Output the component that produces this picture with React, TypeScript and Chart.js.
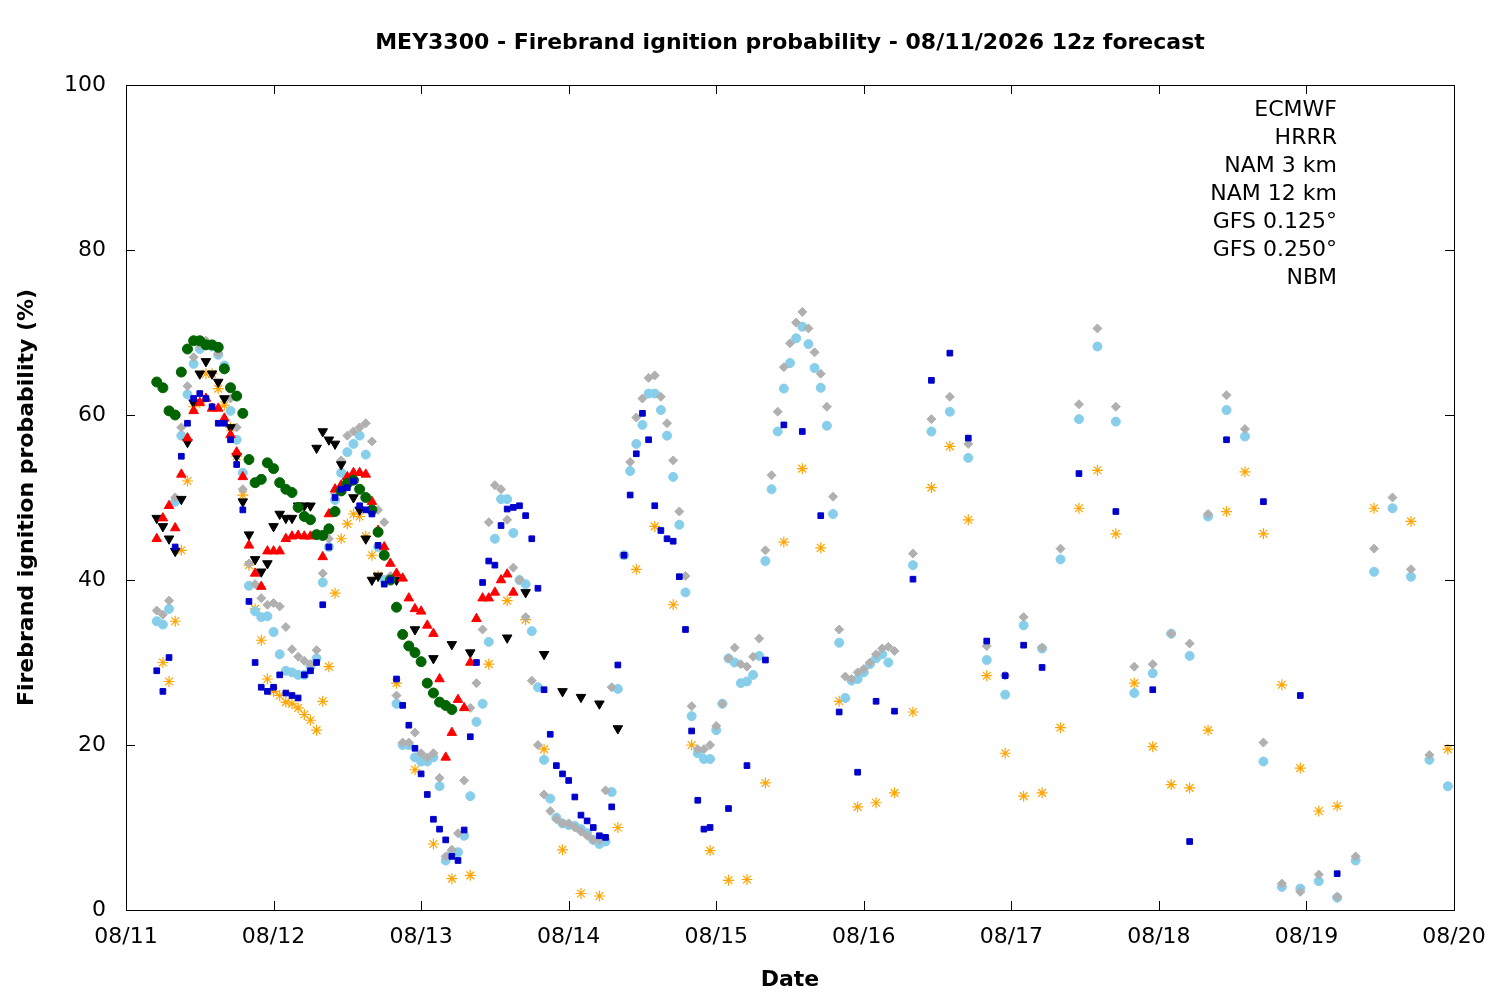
import React, { useEffect, useRef } from "react";
import { Chart, registerables } from "chart.js";
Chart.register(...registerables);

const dateLabels = ["08/11", "08/12", "08/13", "08/14", "08/15", "08/16", "08/17", "08/18", "08/19", "08/20"];
const yTicks = [0, 20, 40, 60, 80, 100];

// [forecast hour since 08/11 00z, probability %]
const ecmwf: [number, number][] = [
  [5,29],[6,26.5],[7,30.6],[8,44],[9,55],[10,59],[11,62],[12,62.6],[13,62],[14,61],[15,59],[16,59],[17,57],[18,54],[19,48.5],[20,37.4],[21,30],[22,27],[23,26.5],[24,27],[25,28.5],[26,26.3],[27,26],[28,25.7],[29,28.5],[30,29],[31,30],[32,37],[33,44],[34,50],[35,51],[36,51.2],[37,52],[38,49],[39,48.5],[40,48],[41,44.2],[42,39.5],[43,40],
  [44,28],[45,24.8],[46,22.4],[47,19.6],[48,16.5],[49,14],[50,11],[51,9.8],[52,8.5],[53,6.5],[54,6],[55,9.7],[56,21],[57,30],[58,39.7],[59,42.3],[60,41.8],[61,46.6],[62,48.6],[63,48.8],[64,49],[65,47.8],[66,45],[67,39],[68,26.7],[69,21.3],[70,17.5],[71,16.5],[72,15.7],[73,13.7],[74,11.5],[75,10.8],[76,10],[77,9],[78,8.8],[79,12.5],[80,29.7],
  [81,43],[82,50.3],[83,55.3],[84,60.2],[85,57],[86,49],[87,46],[88,45],[89,44.7],[90,40.4],[91,34],[92,21.7],[93,13.3],[94,9.8],[95,10],
  [98,12.3],[101,17.5],[104,30.3],[107,58.8],[110,58],[113,47.8],[116,24],[119,16.7],[122,25.3],[125,24.1],[128,40.1],[131,64.2],[134,67.5],[137,57.2],[140,32.6],[143,28.4],[146,32.1],[149,29.4],[155,52.9],[161,48.3],[167,26.7],[173,8.3],[179,57],[185,49.5],[191,26],[197,4.4],
];
const hrrr: [number, number][] = [
  [5,64],[6,63.3],[7,60.5],[8,60],[9,65.2],[10,68],[11,69],[12,69],[13,68.5],[14,68.5],[15,68.2],[16,65.6],[17,63.3],[18,62.3],[19,60.2],[20,54.6],[21,51.8],[22,52.2],[23,54.2],[24,53.5],[25,51.8],[26,51],[27,50.6],[28,48.8],[29,47.7],[30,47.3],[31,45.5],[32,45.4],[33,46.2],[34,48.3],[35,50.8],[36,51.7],[37,52.1],[38,51],[39,50],[40,48.5],[41,45.8],[42,43],[43,40],[44,36.7],[45,33.4],[46,32],[47,31.2],[48,30.1],[49,27.5],[50,26.3],[51,25.2],[52,24.8],[53,24.3],
];
const nam3: [number, number][] = [
  [5,45],[6,47.5],[7,49],[8,46.3],[9,52.8],[10,57.2],[11,60.5],[12,61.5],[13,62],[14,60.8],[15,60.8],[16,59.6],[17,57.6],[18,55.5],[19,52.5],[20,44.2],[21,40.8],[22,39.2],[23,43.5],[24,43.5],[25,43.5],[26,45],[27,45.3],[28,45.4],[29,45.3],[30,45.3],[31,45.4],[32,42.8],[33,48],[34,51],[35,51.5],[36,52.5],[37,53],[38,53],[39,52.8],[40,49.5],[41,46],[42,44],[43,42],[44,40.8],[45,40.2],[46,37.8],[47,36.5],[48,36.2],[49,34.5],[50,33.5],[51,28],[52,18.5],[53,21.5],[54,25.5],[55,24.5],[56,30],[57,35.3],[58,37.8],[59,37.8],[60,38.5],[61,40],[62,40.7],[63,38.5],
];
const nam12: [number, number][] = [
  [5,47.5],[6,46.5],[7,45],[8,43.5],[9,49.8],[10,56.7],[11,61.5],[12,65],[13,66.5],[14,65],[15,64],[16,62],[17,58.5],[18,55],[19,49.5],[20,45.5],[21,42.5],[22,41],[23,42],[24,46.5],[25,48],[26,47.5],[27,47.5],[28,49],[29,49],[30,49],[31,56],[32,58],[33,57],[34,56.5],[35,54],[36,52],[37,50],[38,48.5],[39,45],[40,40],[41,40.5],
  [44,40],[47,34],[50,30.5],[53,32.2],[56,31.2],[62,33],[65,38.5],[68,31],[71,26.5],[74,25.8],[77,25],[80,22],
];
const gfs0125: [number, number][] = [
  [5,36.3],[6,35.8],[7,37.5],[8,50],[9,58.5],[10,63.5],[11,67],[12,68.5],[13,69],[14,68.5],[15,67.5],[16,65.5],[17,62],[18,58.5],[19,51],[20,42],[21,39.5],[22,37.8],[23,37],[24,37.2],[25,36.8],[26,34.3],[27,31.6],[28,30.7],[29,30.2],[30,29.8],[31,31.5],[32,40.8],[33,45],[34,50.5],[35,54.5],[36,57.5],[37,58],[38,58.5],[39,59],[40,56.8],[41,48.5],[42,47],[43,40.5],
  [44,26],[45,20.3],[46,20.3],[47,21.5],[48,19],[49,18.5],[50,19],[51,16],[52,6.5],[53,7.3],[54,9.3],[55,15.7],[56,24.5],[57,27.5],[58,34],[59,47],[60,51.5],[61,51],[62,47.3],[63,41.5],[64,40],[65,35.5],[66,27.8],[67,20],[68,14],[69,12],[70,11],[71,10.5],[72,10.5],[73,10],[74,9.5],[75,9],[76,8.5],[77,8.5],[78,14.5],[79,27],
  [81,43],[82,54.3],[83,59.7],[84,62],[85,64.5],[86,64.8],[87,62.2],[88,59],[89,54.5],[90,48.3],[91,40.5],[92,24.7],[93,19.5],[94,19.5],[95,20],[96,22.3],[97,25],[98,30.5],[99,31.8],[100,29.8],[101,29.5],[102,30.7],[103,32.9],[104,43.6],[105,52.7],[106,60.4],[107,65.8],[108,68.7],[109,71.2],[110,72.5],[111,70.5],[112,67.6],[113,65],[114,61],[115,50.1],[116,34],[117,28.3],[118,28],[119,28.8],[120,29.2],[121,30],[122,31],[123,31.7],[124,31.9],[125,31.4],
  [128,43.2],[131,59.5],[134,62.2],[137,56.5],[140,32],[143,28.4],[146,35.5],[149,31.8],[152,43.8],[155,61.3],[158,70.5],[161,61],[164,29.5],[167,29.8],[170,33.5],[173,32.3],[176,48],[179,62.4],[182,58.3],[185,20.3],[188,3.2],[191,2.2],[194,4.3],[197,1.6],[200,6.5],[203,43.8],[206,50],[209,41.3],[212,18.8],
];
const gfs0250: [number, number][] = [
  [5,35],[6,34.6],[7,36.5],[8,49.5],[9,57.5],[10,62.5],[11,66.2],[12,68],[13,68.5],[14,68.3],[15,67.3],[16,66],[17,60.5],[18,57],[19,53],[20,39.3],[21,36.2],[22,35.5],[23,35.6],[24,33.7],[25,31],[26,29],[27,28.8],[28,28.5],[29,28.5],[30,29.5],[31,30.5],[32,39.7],[33,44],[34,49.7],[35,53],[36,55.5],[37,56.5],[38,57.5],[39,55.2],[40,48.3],[41,44],[42,40],[43,40.2],
  [44,25],[45,20],[46,20],[47,18.5],[48,18],[49,18],[50,18.5],[51,15],[52,6],[53,7],[54,7],[55,9],[56,13.8],[57,22.8],[58,25],[59,32.5],[60,45],[61,49.8],[62,49.8],[63,45.7],[64,40],[65,39.5],[66,33.8],[67,27],[68,18.2],[69,13.5],[70,11.2],[71,10.5],[72,10.3],[73,10.2],[74,9.8],[75,9.3],[76,8.5],[77,8],[78,8.3],[79,14.3],[80,26.8],
  [81,43],[82,53.2],[83,56.5],[84,58.8],[85,62.6],[86,62.6],[87,60.6],[88,57.5],[89,52.5],[90,46.7],[91,38.5],[92,23.5],[93,19],[94,18.3],[95,18.3],[96,21.8],[97,25],[98,30.5],[99,30],[100,27.5],[101,27.7],[102,28.5],[103,30.8],[104,42.3],[105,51],[106,58],[107,63.2],[108,66.3],[109,69.3],[110,70.7],[111,68.6],[112,65.7],[113,63.3],[114,58.7],[115,48],[116,32.4],[117,25.7],[118,27.8],[119,28],[120,28.8],[121,29.8],[122,30.5],[123,31],[124,30],
  [128,41.8],[131,58],[134,60.4],[137,54.8],[140,30.3],[143,26.1],[146,34.5],[149,31.7],[152,42.5],[155,59.5],[158,68.3],[161,59.2],[164,26.3],[167,28.7],[170,33.5],[173,30.8],[176,47.7],[179,60.6],[182,57.4],[185,18],[188,2.8],[191,2.6],[194,3.5],[197,1.5],[200,6],[203,41],[206,48.7],[209,40.4],[212,18.2],[215,15],
];
const nbm: [number, number][] = [
  [6,30],[7,27.7],[8,35],[9,43.6],[10,52],[11,61],[12,61.5],[13,65],[14,65],[15,63.2],[16,61.2],[17,58.5],[18,55],[19,50.3],[20,41.8],[21,36.5],[22,32.7],[23,28],[24,26.5],[25,26],[26,25.2],[27,25],[28,24.5],[29,23.7],[30,23],[31,21.8],[32,25.3],[33,29.5],[34,38.4],[35,45],[36,46.8],[37,48],[38,47.7],[39,45.3],[40,43],[41,40.5],
  [44,27.5],[47,17],[50,8],[53,3.8],[56,4.2],[59,29.8],[62,37.5],[65,35.2],[68,19.5],[71,7.3],[74,2],[77,1.7],[80,10],[83,41.3],[86,46.5],[89,37],[92,20],[95,7.2],[98,3.6],[101,3.7],[104,15.4],[107,44.6],[110,53.5],[113,43.9],[116,25.3],[119,12.5],[122,13],[125,14.2],[128,24],[131,51.2],[134,56.2],[137,47.3],[140,28.4],[143,19],[146,13.8],[149,14.2],[152,22.1],[155,48.7],[158,53.3],[161,45.6],[164,27.5],[167,19.8],[170,15.2],[173,14.8],[176,21.8],[179,48.3],[182,53.1],[185,45.6],[188,27.3],[191,17.2],[194,12],[197,12.6],[203,48.7],[209,47.1],[215,19.5],
];

const FONT = "'DejaVu Sans', sans-serif";

const seriesDefs = [
  { label: "ECMWF", data: ecmwf, style: "rect", color: "#0000cc", r: 4, rot: 0 },
  { label: "HRRR", data: hrrr, style: "circle", color: "#006400", r: 5, rot: 0 },
  { label: "NAM 3 km", data: nam3, style: "triangle", color: "#ff0000", r: 5.5, rot: 0 },
  { label: "NAM 12 km", data: nam12, style: "triangle", color: "#000000", r: 5.5, rot: 180 },
  { label: "GFS 0.125°", data: gfs0125, style: "rectRot", color: "#b0b0b0", r: 4.5, rot: 0 },
  { label: "GFS 0.250°", data: gfs0250, style: "circle", color: "#87ceeb", r: 4.5, rot: 0 },
  { label: "NBM", data: nbm, style: "star", color: "#ffa500", r: 5.5, rot: 0 },
];

const framePlugin = {
  id: "frame",
  afterDraw(chart: any) {
    const { ctx, chartArea: a, scales } = chart;
    ctx.save();
    ctx.strokeStyle = "#000";
    ctx.lineWidth = 1;
    ctx.strokeRect(a.left + 0.5, a.top + 0.5, a.right - a.left, a.bottom - a.top);
    ctx.beginPath();
    for (let i = 0; i < dateLabels.length; i++) {
      const x = Math.round(scales.x.getPixelForValue(i * 24)) + 0.5;
      ctx.moveTo(x, a.bottom); ctx.lineTo(x, a.bottom - 9);
      ctx.moveTo(x, a.top); ctx.lineTo(x, a.top + 9);
    }
    for (const v of yTicks) {
      const y = Math.round(scales.y.getPixelForValue(v)) + 0.5;
      ctx.moveTo(a.left, y); ctx.lineTo(a.left + 9, y);
      ctx.moveTo(a.right, y); ctx.lineTo(a.right - 9, y);
    }
    ctx.stroke();
    // title
    ctx.fillStyle = "#000";
    ctx.font = `bold 22px ${FONT}`;
    ctx.textAlign = "center";
    ctx.textBaseline = "middle";
    ctx.fillText("MEY3300 - Firebrand ignition probability - 08/11/2026 12z forecast", (a.left + a.right) / 2, 43);
    ctx.fillText("Date", (a.left + a.right) / 2, 980);
    ctx.save();
    ctx.translate(27, (a.top + a.bottom) / 2);
    ctx.rotate(-Math.PI / 2);
    ctx.fillText("Firebrand ignition probability (%)", 0, 0);
    ctx.restore();
    // legend
    ctx.font = `22px ${FONT}`;
    ctx.textAlign = "right";
    seriesDefs.forEach((s, i) => {
      const y = 110 + i * 28;
      ctx.fillStyle = "#000";
      ctx.fillText(s.label, 1337, y);
      const opts: any = { pointStyle: s.style, radius: s.r, rotation: s.rot, borderWidth: 1 };
      ctx.fillStyle = s.color;
      ctx.strokeStyle = s.color;
      ctx.lineWidth = 1;
      (Chart as any).helpers
        ? (Chart as any).helpers.drawPoint(ctx, opts, 1388, y)
        : null;
    });
    ctx.restore();
  },
};

export default function App() {
  const ref = useRef<HTMLCanvasElement>(null);
  useEffect(() => {
    document.body.style.margin = "0";
    const chart = new Chart(ref.current!, {
      type: "scatter",
      data: {
        datasets: seriesDefs.map((s) => ({
          label: s.label,
          data: s.data.map(([x, y]) => ({ x, y })),
          pointStyle: s.style as any,
          pointRadius: s.r,
          pointRotation: s.rot,
          backgroundColor: s.color,
          borderColor: s.color,
          borderWidth: s.style === "star" ? 1.2 : 1,
          showLine: false,
        })),
      },
      options: {
        responsive: false,
        animation: false,
        layout: { padding: { top: 85, right: 46, left: 0, bottom: 0 } },
        plugins: { legend: { display: false }, tooltip: { enabled: false }, title: { display: false } },
        scales: {
          x: {
            type: "linear",
            min: 0,
            max: 216,
            afterFit: (s: any) => { s.height = 90; },
            afterBuildTicks: (s: any) => { s.ticks = dateLabels.map((_, i) => ({ value: i * 24 })); },
            ticks: {
              callback: (v: any) => dateLabels[Math.round(Number(v) / 24)] ?? "",
              font: { family: FONT, size: 22 },
              color: "#000",
              maxRotation: 0,
              padding: 6,
            },
            grid: { display: false },
            border: { display: false },
          },
          y: {
            min: 0,
            max: 100,
            afterFit: (s: any) => { s.width = 126; },
            afterBuildTicks: (s: any) => { s.ticks = yTicks.map((v) => ({ value: v })); },
            ticks: { font: { family: FONT, size: 22 }, color: "#000", padding: 12 },
            grid: { display: false },
            border: { display: false },
          },
        },
      },
      plugins: [framePlugin],
    });
    return () => chart.destroy();
  }, []);
  return <canvas ref={ref} width={1500} height={1000} style={{ display: "block" }} />;
}
